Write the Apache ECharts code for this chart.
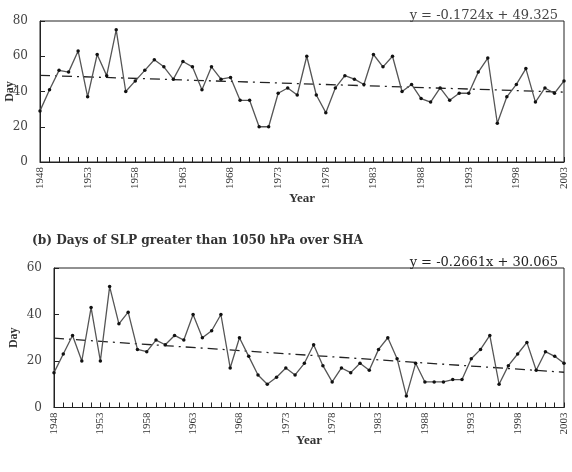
<!DOCTYPE html>
<html><head><meta charset="utf-8">
<script src="https://cdn.jsdelivr.net/npm/echarts@6/dist/echarts.min.js"></script>
<style>html,body{margin:0;padding:0;background:#fff}#c{width:572px;height:472px}</style>
</head><body><div id="c"></div>
<script>
const years = [];
for (let y = 1948; y <= 2003; y++) years.push(String(y));
const daysA = [29,41,52,51,63,37,61,49,75,40,46,52,58,54,47,57,54,41,54,47,48,35,35,20,20,39,42,38,60,38,28,42,49,47,44,61,54,60,40,44,36,34,42,35,39,39,51,59,22,37,44,53,34,42,39,46];
const daysB = [15,23,31,20,43,20,52,36,41,25,24,29,27,31,29,40,30,33,40,17,30,22,14,10,13,17,14,19,27,18,11,17,15,19,16,25,30,21,5,19,11,11,11,12,12,21,25,31,10,18,23,28,16,24,22,19];
const trendA = {slope: -0.1724, intercept: 49.325, label: 'y = -0.1724x + 49.325'};
const trendB = {slope: -0.2661, intercept: 30.065, label: 'y = -0.2661x + 30.065'};
const titleB = '(b) Days of SLP greater than 1050 hPa over SHA';
const yTicksA = {min: 0, max: 80, interval: 20};
const yTicksB = {min: 0, max: 60, interval: 20};

const serif = 'Liberation Serif';
const wide = 'DejaVu Serif';
const txt = '#333';
function trendPts(t, n) {
  return [[years[0], t.slope * 1 + t.intercept], [years[n - 1], t.slope * n + t.intercept]];
}
function xAxis(gi) {
  return {
    type: 'category', gridIndex: gi, data: years, boundaryGap: false,
    name: 'Year', nameLocation: 'middle', nameGap: gi === 0 ? 30 : 27, nameMoveOverlap: false,
    nameTextStyle: {fontFamily: serif, fontWeight: 'bold', fontSize: 13, color: txt},
    axisLine: {lineStyle: {color: '#222', width: 1}},
    axisTick: {inside: true, length: 5, interval: 0, lineStyle: {color: '#222'}},
    axisLabel: {interval: 4, rotate: 90, fontFamily: serif, fontSize: 11, color: txt, margin: 5},
    splitLine: {show: false}
  };
}
function yAxis(gi, t) {
  return {
    type: 'value', gridIndex: gi, min: t.min, max: t.max, interval: t.interval,
    name: 'Day', nameLocation: 'middle', nameGap: gi === 0 ? 24 : 34, nameRotate: 90, nameMoveOverlap: false,
    nameTextStyle: {fontFamily: serif, fontWeight: 'bold', fontSize: 12, color: txt},
    axisLine: {show: true, lineStyle: {color: '#222'}},
    axisTick: {show: true, inside: true, length: 5, lineStyle: {color: '#222'}},
    axisLabel: {fontFamily: wide, fontSize: 12, color: '#444', margin: 12},
    splitLine: {show: false}
  };
}
function dataSeries(gi, d) {
  return {
    type: 'line', xAxisIndex: gi, yAxisIndex: gi, data: d,
    symbol: 'circle', symbolSize: 3.5, itemStyle: {color: '#111'},
    lineStyle: {color: '#555', width: 1.3}, animation: false, z: 3
  };
}
function trendSeries(gi, t, n) {
  return {
    type: 'line', xAxisIndex: gi, yAxisIndex: gi, data: trendPts(t, n),
    symbol: 'none', lineStyle: {color: '#222', width: 1.3, type: [10, 5, 2, 5]},
    animation: false, z: 2
  };
}
const chart = echarts.init(document.getElementById('c'), null, {renderer: 'canvas'});
chart.setOption({
  backgroundColor: '#fff',
  animation: false,
  title: [
    {text: trendA.label, right: 9, top: 4, textStyle: {fontFamily: wide, fontSize: 13, fontWeight: 'normal', color: '#444'}},
    {text: trendB.label, right: 9, top: 251, textStyle: {fontFamily: wide, fontSize: 13, fontWeight: 'normal', color: '#222'}},
    {text: titleB, left: 27, top: 230, textStyle: {fontFamily: wide, fontSize: 12.2, fontWeight: 'bold', color: '#333'}}
  ],
  grid: [
    {left: 40, right: 8, top: 21, height: 141, show: true, borderColor: '#222', borderWidth: 1, outerBoundsMode: 'none', containLabel: false},
    {left: 54, right: 8, top: 268, height: 139.5, show: true, borderColor: '#222', borderWidth: 1, outerBoundsMode: 'none', containLabel: false}
  ],
  xAxis: [xAxis(0), xAxis(1)],
  yAxis: [yAxis(0, yTicksA), yAxis(1, yTicksB)],
  series: [
    trendSeries(0, trendA, daysA.length), dataSeries(0, daysA),
    trendSeries(1, trendB, daysB.length), dataSeries(1, daysB)
  ]
});
</script></body></html>
